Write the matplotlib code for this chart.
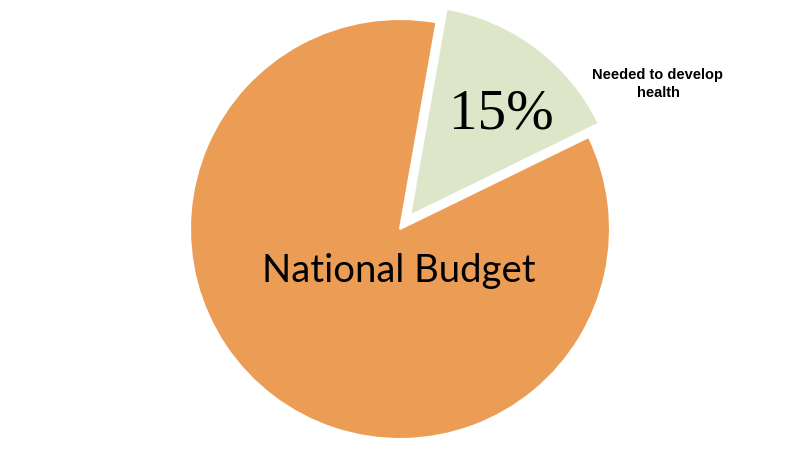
#!/usr/bin/env python3
# Pie: share of the national budget needed to develop health
import matplotlib
matplotlib.use("Agg")
import matplotlib.pyplot as plt

shares = [15, 85]
names = ["Needed to develop\nhealth", "National Budget"]
colors = ["#DEE6C9", "#EC9D55"]
explode = [0.08, 0.0]

W, H = 800, 464
R = 210.0  # pie radius in pixels
cx, cy = 400, 230  # centre of the main pie, pixel coords from top-left

fig = plt.figure(figsize=(W / 100, H / 100), dpi=100)
ax = fig.add_axes([0, 0, 1, 1])

wedges, _ = ax.pie(shares, colors=colors, explode=explode, startangle=80,
                   counterclock=False, radius=1.0,
                   wedgeprops=dict(edgecolor="white", linewidth=1.5))

ax.set_aspect("equal")
ax.set_xlim(-cx / R, (W - cx) / R)
ax.set_ylim(-(H - cy) / R, cy / R)
ax.axis("off")

def px(x, y):
    # pixel position -> data coords
    return (x - cx) / R, (cy - y) / R

ax.text(*px(501, 115), f"{shares[0]}%", ha="center", va="center",
        family="Liberation Serif", fontsize=41)
ax.text(*px(399, 271), names[1], ha="center", va="center",
        family="Lato", fontsize=27.5)
ax.text(*px(658, 84), names[0], ha="center", va="center",
        family="Liberation Sans", fontweight="bold", fontsize=10.5,
        linespacing=1.35)

fig.savefig("out.png", dpi=100)
